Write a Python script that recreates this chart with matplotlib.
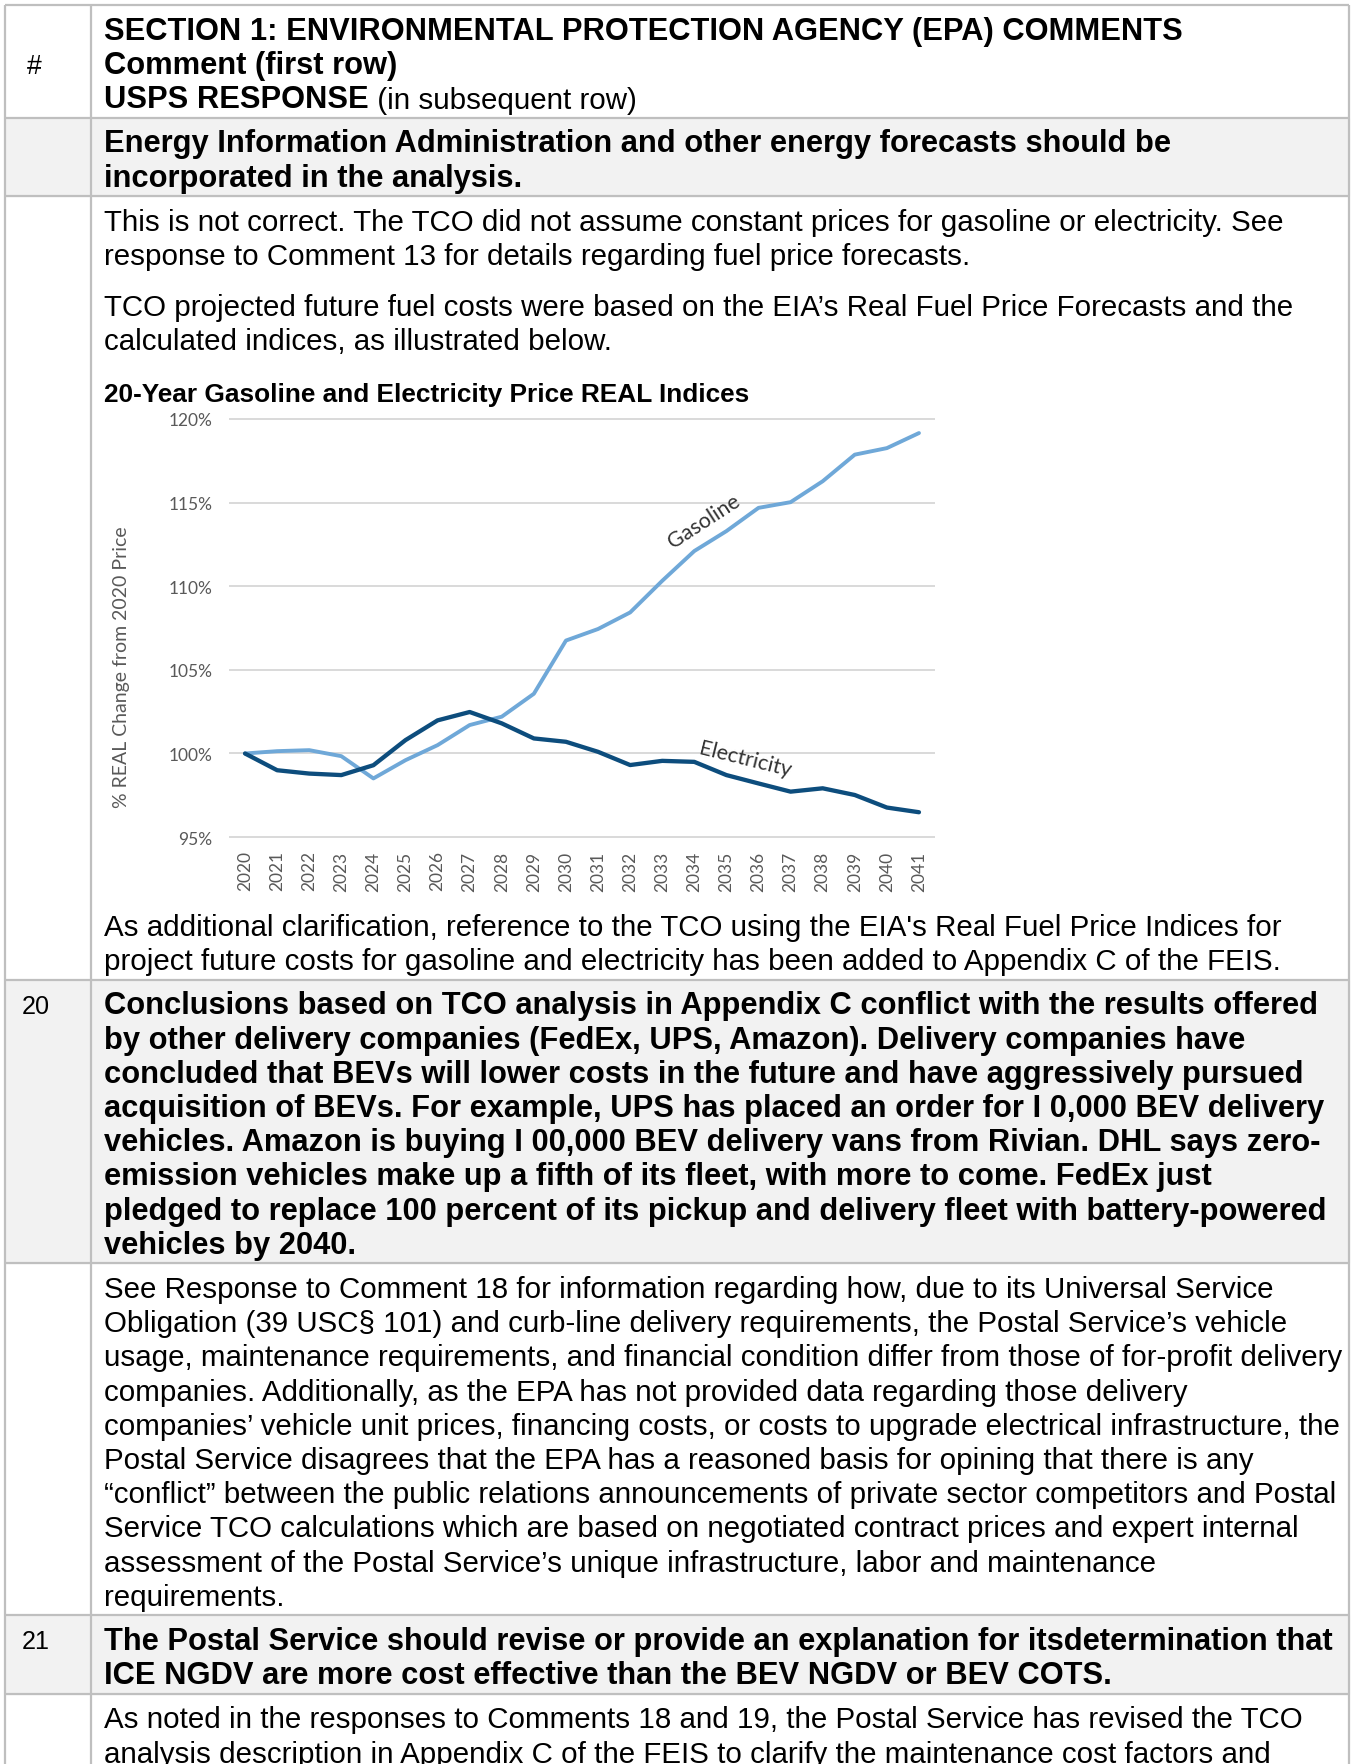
import matplotlib
matplotlib.use("Agg")
import matplotlib.pyplot as plt
from matplotlib.patches import Rectangle

# chart data
years = list(range(2020, 2042))
gasoline = [100.0, 100.14, 100.2, 99.84, 98.51, 99.6, 100.5, 101.7, 102.2, 103.57,
            106.75, 107.44, 108.43, 110.32, 112.1, 113.29, 114.68, 115.02, 116.27,
            117.86, 118.25, 119.15]
electricity = [100.0, 99.0, 98.8, 98.71, 99.3, 100.8, 101.98, 102.48, 101.8, 100.9,
               100.7, 100.1, 99.31, 99.56, 99.5, 98.71, 98.21, 97.72, 97.92,
               97.52, 96.77, 96.49]
y_ticks = [95, 100, 105, 110, 115, 120]

# table text
header_lines = ["SECTION 1: ENVIRONMENTAL PROTECTION AGENCY (EPA) COMMENTS",
                "Comment (first row)"]
comment_19 = ["Energy Information Administration and other energy forecasts should be",
              "incorporated in the analysis."]
resp_19_a = ["This is not correct. The TCO did not assume constant prices for gasoline or electricity. See",
             "response to Comment 13 for details regarding fuel price forecasts."]
resp_19_b = ["TCO projected future fuel costs were based on the EIA\u2019s Real Fuel Price Forecasts and the",
             "calculated indices, as illustrated below."]
chart_title = "20-Year Gasoline and Electricity Price REAL Indices"
resp_19_c = ["As additional clarification, reference to the TCO using the EIA's Real Fuel Price Indices for",
             "project future costs for gasoline and electricity has been added to Appendix C of the FEIS."]
comment_20 = ["Conclusions based on TCO analysis in Appendix C conflict with the results offered",
              "by other delivery companies (FedEx, UPS, Amazon). Delivery companies have",
              "concluded that BEVs will lower costs in the future and have aggressively pursued",
              "acquisition of BEVs. For example, UPS has placed an order for I 0,000 BEV delivery",
              "vehicles. Amazon is buying I 00,000 BEV delivery vans from Rivian. DHL says zero-",
              "emission vehicles make up a fifth of its fleet, with more to come. FedEx just",
              "pledged to replace 100 percent of its pickup and delivery fleet with battery-powered",
              "vehicles by 2040."]
resp_20 = ["See Response to Comment 18 for information regarding how, due to its Universal Service",
           "Obligation (39 USC\u00a7 101) and curb-line delivery requirements, the Postal Service\u2019s vehicle",
           "usage, maintenance requirements, and financial condition differ from those of for-profit delivery",
           "companies. Additionally, as the EPA has not provided data regarding those delivery",
           "companies\u2019 vehicle unit prices, financing costs, or costs to upgrade electrical infrastructure, the",
           "Postal Service disagrees that the EPA has a reasoned basis for opining that there is any",
           "\u201cconflict\u201d between the public relations announcements of private sector competitors and Postal",
           "Service TCO calculations which are based on negotiated contract prices and expert internal",
           "assessment of the Postal Service\u2019s unique infrastructure, labor and maintenance",
           "requirements."]
comment_21 = ["The Postal Service should revise or provide an explanation for itsdetermination that",
              "ICE NGDV are more cost effective than the BEV NGDV or BEV COTS."]
resp_21 = ["As noted in the responses to Comments 18 and 19, the Postal Service has revised the TCO",
           "analysis description in Appendix C of the FEIS to clarify the maintenance cost factors and"]

W, H = 1352, 1765
fig = plt.figure(figsize=(W / 100, H / 100), dpi=100)
page = fig.add_axes([0, 0, 1, 1])
page.set_xlim(0, W)
page.set_ylim(H, 0)
page.axis("off")

FONT = "Liberation Sans"
NARROW = ["Liberation Sans Narrow", "Liberation Sans"]
CHART_FONT = "Lato"

# size the fonts so known lines get the reference widths
r = fig.canvas.get_renderer()


def fit(s, target, weight):
    t = page.text(0, 0, s, fontsize=20, family=FONT, fontweight=weight)
    w = t.get_window_extent(r).width
    t.remove()
    return 20 * target / w


fs = fit(resp_20[2], 1236, "normal")
fs_b = fit(comment_20[0], 1215, "bold")
em = fs * 100 / 72
pitch = 34.2
pad_top = 0.5 * pitch + 6
pad_bot = 0.5 * pitch + 4
para_gap = 17

X_L, X_C, X_R = 5, 91, 1349
TX = 104
line_col = "#bfbfbf"
grey = "#f2f2f2"
row_lines = [6]
grey_rows = []


def put(lines, y, bold=False, size=None):
    ys = []
    for i, s in enumerate(lines):
        yc = y + i * pitch
        size_i = size if size else (fs_b if bold else fs)
        page.text(TX, yc + 0.36 * em, s, fontsize=size_i, family=FONT,
                  fontweight="bold" if bold else "normal", va="baseline", ha="left")
        ys.append(yc)
    return ys


def number(label, y):
    page.text(22, y + 0.33 * em, label, fontsize=fs * 0.85, family=NARROW,
              va="baseline", ha="left")


# header row
y = 6 + pad_top
hy = put(header_lines, y, bold=True)
y3 = hy[-1] + pitch
t = page.text(TX, y3 + 0.36 * em, "USPS RESPONSE", fontsize=fs_b, family=FONT,
              fontweight="bold", va="baseline")
page.annotate(" (in subsequent row)", xy=(1, 0), xycoords=t, fontsize=fs,
              family=FONT, va="bottom", ha="left")
page.text(27, hy[1] + 0.36 * em, "#", fontsize=fs * 0.9, family=FONT, va="baseline")
y = y3 + pad_bot
row_lines.append(y)

# comment 19 (grey)
top = y
ys = put(comment_19, y + pad_top, bold=True)
y = ys[-1] + pad_bot
grey_rows.append((top, y))
row_lines.append(y)

# response 19 with chart
ys = put(resp_19_a, y + pad_top)
ys = put(resp_19_b, ys[-1] + pitch + para_gap)
ys = put([chart_title], ys[-1] + pitch + para_gap, bold=True, size=fs_b * 0.85)

# bottom part laid out so the last line sits at the page foot
blocks = [("resp", resp_19_c), ("comment", comment_20), ("resp", resp_20),
          ("comment", comment_21), ("resp", resp_21)]
offs = []
cur = 0.0
for i, (kind, lines) in enumerate(blocks):
    if i > 0:
        cur += pad_bot + pad_top
    offs.append(cur)
    cur += (len(lines) - 1) * pitch
shift = 1752 - cur
for i, (kind, lines) in enumerate(blocks):
    y0 = offs[i] + shift
    if i > 0:
        rl = y0 - pad_top
        row_lines.append(rl)
        if kind == "comment":
            bottom = y0 + (len(lines) - 1) * pitch + pad_bot
            grey_rows.append((rl, bottom))
            number("20" if lines is comment_20 else "21", y0)
    put(lines, y0, bold=(kind == "comment"))

for a, b in grey_rows:
    page.add_patch(Rectangle((X_L, a), X_R - X_L, b - a, color=grey, zorder=0))
for yl in row_lines:
    page.plot([X_L, X_R], [yl, yl], color=line_col, lw=1.6, solid_capstyle="butt")
for xl in (X_L, X_C, X_R):
    page.plot([xl, xl], [6, H], color=line_col, lw=1.6, solid_capstyle="butt")

# chart
ax = fig.add_axes([229 / W, 1 - 839 / H, 706 / W, 420 / H])
ax.set_axisbelow(True)
ax.plot(years, gasoline, color="#6fa8d8", lw=2.8, solid_joinstyle="round",
        solid_capstyle="round", zorder=3)
ax.plot(years, electricity, color="#0d4d7d", lw=3.1, solid_joinstyle="round",
        solid_capstyle="round", zorder=3)
ax.set_xlim(2019.5, 2041.5)
ax.set_ylim(94.95, 120.05)
ax.set_yticks(y_ticks)
ax.set_yticklabels([f"{v}%" for v in y_ticks], family=CHART_FONT)
ax.set_xticks(years)
ax.set_xticklabels([str(v) for v in years], rotation=90, family=CHART_FONT)
ax.grid(axis="y", color="#d9d9d9", lw=1.4)
ax.grid(axis="x", visible=False)
ax.tick_params(axis="both", length=0, colors="#595959", labelsize=12.5)
ax.tick_params(axis="y", pad=12)
ax.tick_params(axis="x", pad=9)
for s in ax.spines.values():
    s.set_visible(False)
ax.patch.set_alpha(0)

ax.text(2034.3, 113.9, "Gasoline", rotation=33, ha="center", va="center",
        fontsize=15.5, color="#333333", family=CHART_FONT)
ax.text(2035.6, 99.7, "Electricity", rotation=-14, ha="center", va="center",
        fontsize=15.5, color="#333333", family=CHART_FONT)
fig.text(122 / W, 1 - 667 / H, "% REAL Change from 2020 Price", rotation=90,
         ha="center", va="center", fontsize=14, color="#595959", family=CHART_FONT)

fig.savefig("out.png", dpi=100)
